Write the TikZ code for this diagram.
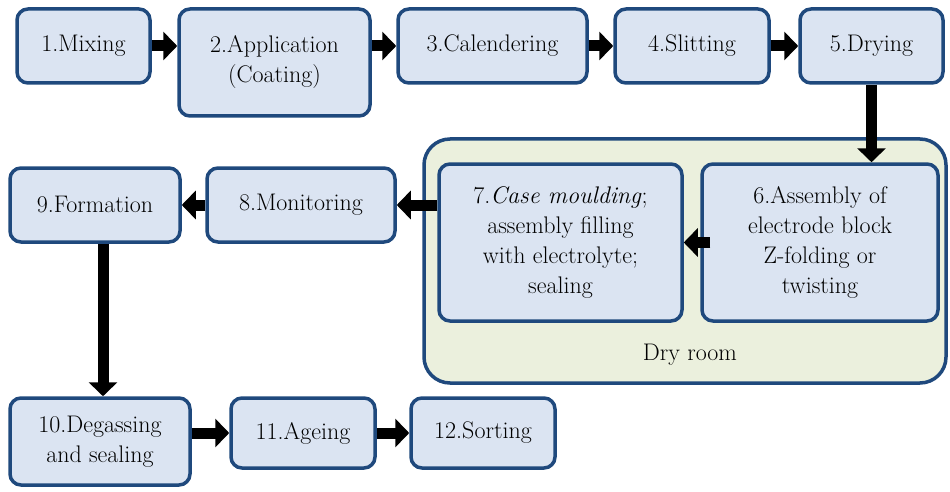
\documentclass[tikz,border=0pt]{standalone}
\usepackage{fontspec}
\usepackage{tikz}
\usetikzlibrary{arrows.meta,positioning,calc}
\definecolor{stepblue}{RGB}{31,73,125}
\definecolor{stepfill}{RGB}{219,228,242}
\definecolor{roomfill}{RGB}{235,240,221}

\begin{document}
\begin{tikzpicture}[x=1pt,y=-1pt,
  stepbox/.style={draw=stepblue, fill=stepfill, line width=3.5pt, rounded corners=11pt, align=center, inner sep=2pt, font=\fontsize{24}{30}\selectfont},
  roombox/.style={draw=stepblue, fill=roomfill, line width=3.5pt, rounded corners=26pt},
  flow/.style={line width=11pt, -{Triangle[length=14pt,width=28pt]}}]
  \useasboundingbox (0,0) rectangle (950,492);
  % dry room frame
  \node[roombox, minimum width=522pt, minimum height=244pt] (room) at (685,261) {};
  \node[font=\fontsize{24}{30}\selectfont] (roomlabel) at (690,355) {Dry room};
  % top row
  \node[stepbox, minimum width=133pt, minimum height=74pt] (mix) at (83.5,46) {1.Mixing};
  \node[stepbox, minimum width=191pt, minimum height=107pt] (coat) at (274.5,62.5) {2.Application\\(Coating)};
  \node[stepbox, minimum width=189pt, minimum height=74pt] (cal) at (492.5,46) {3.Calendering};
  \node[stepbox, minimum width=154pt, minimum height=74pt] (slit) at (692,46) {4.Slitting};
  \node[stepbox, minimum width=143pt, minimum height=74pt] (dry) at (871.5,46) {5.Drying};
  % middle row
  \node[stepbox, minimum width=236pt, minimum height=157pt] (asm) at (820,242.5) {6.Assembly of\\electrode block\\Z-folding or\\twisting};
  \node[stepbox, minimum width=243pt, minimum height=157pt] (case) at (560.5,242.5) {7.\textit{Case moulding};\\assembly filling\\with electrolyte;\\sealing};
  \node[stepbox, minimum width=188pt, minimum height=74pt] (mon) at (301,205) {8.Monitoring};
  \node[stepbox, minimum width=170pt, minimum height=74pt] (form) at (95,205) {9.Formation};
  % bottom row
  \node[stepbox, minimum width=180pt, minimum height=87pt] (degas) at (100,441.5) {10.Degassing\\and sealing};
  \node[stepbox, minimum width=144pt, minimum height=70pt] (age) at (303,433) {11.Ageing};
  \node[stepbox, minimum width=144pt, minimum height=70pt] (sort) at (483,433) {12.Sorting};
  % connectors
  \draw[flow] (mix.east) -- (mix.east -| coat.west);
  \draw[flow] (coat.east |- cal.west) -- (cal.west);
  \draw[flow] (cal.east) -- (slit.west);
  \draw[flow] (slit.east) -- (dry.west);
  \draw[flow] (dry.south) -- (dry.south |- asm.north);
  \draw[flow] ($(asm.west)+(10,0)$) -- (case.east);
  \draw[flow] (case.west |- mon.east) -- (mon.east);
  \draw[flow] (mon.west) -- (form.east);
  \draw[flow] ($(form.south -| degas.north)+(3,0)$) -- ($(degas.north)+(3,0)$);
  \draw[flow] (degas.east |- age.west) -- (age.west);
  \draw[flow] (age.east) -- (sort.west);
\end{tikzpicture}
\end{document}
